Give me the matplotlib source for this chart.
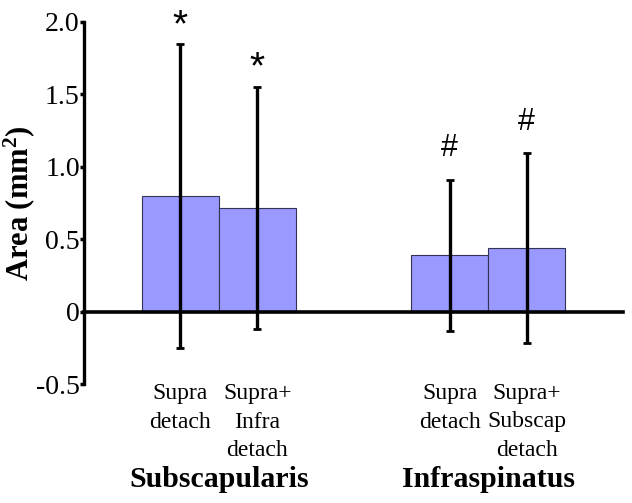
import matplotlib
matplotlib.use("Agg")
import matplotlib.pyplot as plt
import matplotlib.transforms as mtransforms

# data
positions = [1.25, 2.25, 4.75, 5.75]
means = [0.80, 0.72, 0.39, 0.44]
errors = [1.045, 0.835, 0.52, 0.655]
marks = ["*", "*", "#", "#"]
bar_labels = ["Supra\ndetach", "Supra+\nInfra\ndetach", "Supra\ndetach", "Supra+\nSubscap\ndetach"]
groups = ["Subscapularis", "Infraspinatus"]
group_pos = [1.75, 5.25]
yticks = [-0.5, 0, 0.5, 1.0, 1.5, 2.0]
ytick_labels = ["-0.5", "0", "0.5", "1.0", "1.5", "2.0"]

serif = ["Liberation Serif", "DejaVu Serif"]
plt.rcParams["mathtext.fontset"] = "custom"
plt.rcParams["mathtext.rm"] = "Liberation Serif:bold"
plt.rcParams["mathtext.it"] = "Liberation Serif:bold"

fig = plt.figure(figsize=(6.32, 5.03), dpi=100)
ax = fig.add_axes([0.1329, 0.2356, 0.8529, 0.7207])

ax.bar(positions, means, width=1.0, color="#9999ff", edgecolor="#333355",
       linewidth=0.8, zorder=2)
ax.errorbar(positions, means, yerr=errors, fmt="none", ecolor="black",
            elinewidth=2.4, capsize=3, capthick=2, zorder=3)

# significance marks above the error bars
for x, m, e, s in zip(positions, means, errors, marks):
    if s == "*":
        size, off = 28, 0
    else:
        size, off = 22, 12
    ax.annotate(s, (x, m + e), xytext=(0, off), textcoords="offset points",
                ha="center", va="bottom", fontsize=size,
                family=["Liberation Sans", "DejaVu Sans"])

ax.set_xlim(0, 7.0)
ax.set_ylim(-0.5, 2.0)

for side in ["top", "right"]:
    ax.spines[side].set_visible(False)
ax.spines["left"].set_linewidth(2.4)
ax.spines["bottom"].set_linewidth(2.6)
ax.spines["bottom"].set_position(("data", 0))
ax.spines["bottom"].set_zorder(4)

ax.set_xticks([])
ax.set_yticks(yticks)
ax.set_yticklabels(ytick_labels, family=serif, fontsize=20)
ax.tick_params(axis="y", direction="out", length=3, width=2.5, pad=0)

ax.set_ylabel("Area (mm$^2$)", family=serif, fontsize=22, fontweight="bold")
ax.yaxis.set_label_coords(-0.088, 0.5)

# category labels, one line at a time
trans = mtransforms.blended_transform_factory(ax.transData, fig.transFigure)
for x, lab in zip(positions, bar_labels):
    for i, line in enumerate(lab.split("\n")):
        ax.text(x, 1 - (399 + 28.5 * i) / 503, line, transform=trans,
                ha="center", va="baseline", family=serif, fontsize=17)
for x, g in zip(group_pos, groups):
    ax.text(x, 1 - 487 / 503, g, transform=trans, ha="center", va="baseline",
            family=serif, fontsize=21.5, fontweight="bold")

fig.savefig("out.png", dpi=100)
